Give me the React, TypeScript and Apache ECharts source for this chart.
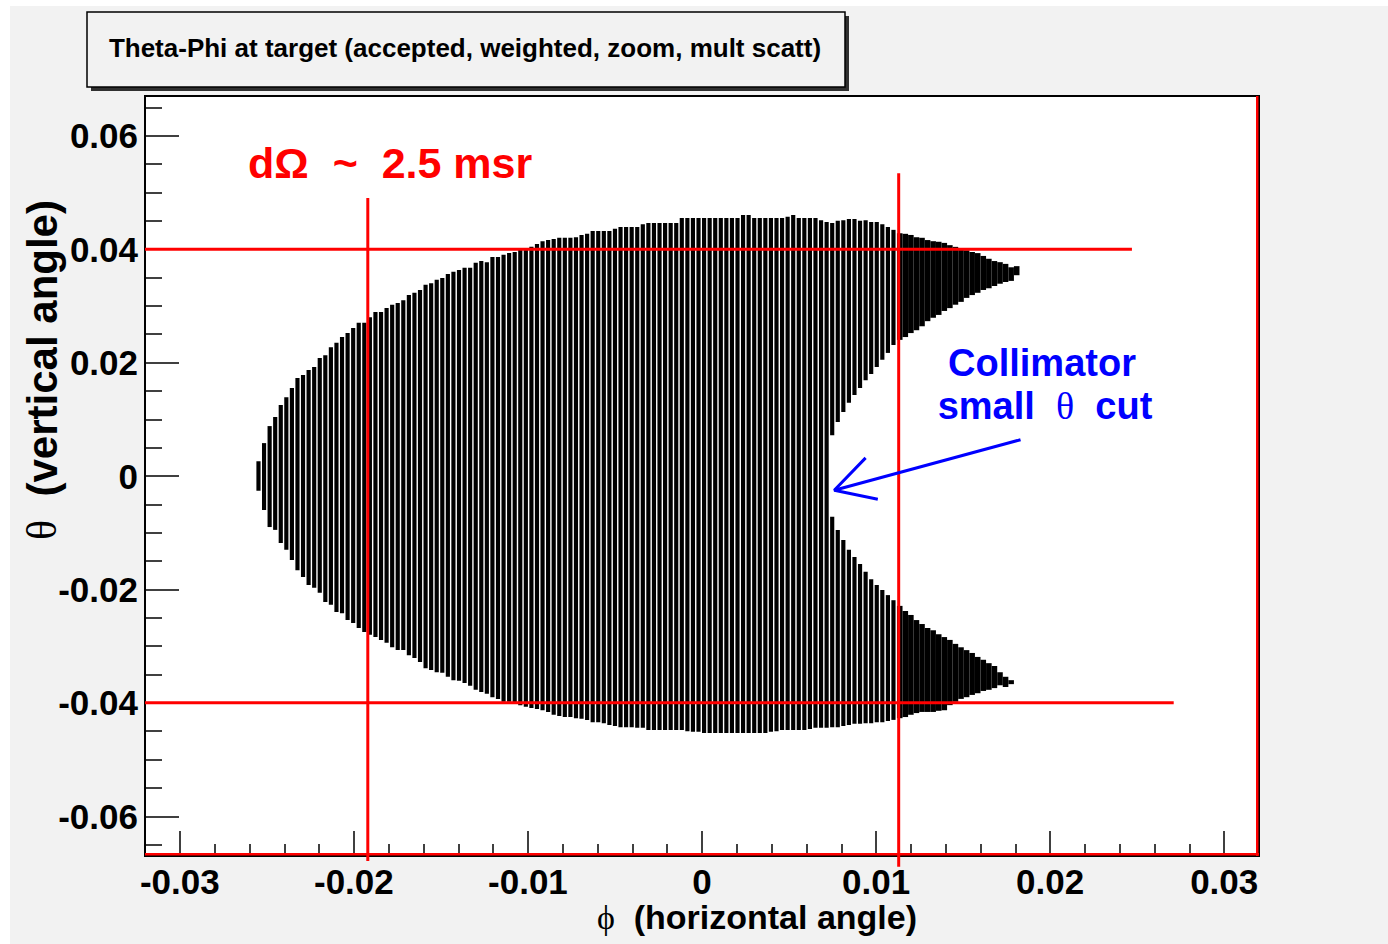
import React, { useEffect, useRef } from "react";
import * as echarts from "echarts";

// ---------- axis definition ----------
const PHI_MIN = -0.032;
const PHI_MAX = 0.032;
const THETA_MIN = -0.067;
const THETA_MAX = 0.067;

const xMajorTicks = [-0.03, -0.02, -0.01, 0, 0.01, 0.02, 0.03];
const xTickLabels = ["-0.03", "-0.02", "-0.01", "0", "0.01", "0.02", "0.03"];
const xMinorTicks = [
  -0.028, -0.026, -0.024, -0.022, -0.018, -0.016, -0.014, -0.012, -0.008, -0.006, -0.004, -0.002,
  0.002, 0.004, 0.006, 0.008, 0.012, 0.014, 0.016, 0.018, 0.022, 0.024, 0.026, 0.028,
];
const yMajorTicks = [-0.06, -0.04, -0.02, 0, 0.02, 0.04, 0.06];
const yTickLabels = ["-0.06", "-0.04", "-0.02", "0", "0.02", "0.04", "0.06"];
const yMinorTicks = [
  -0.065, -0.055, -0.05, -0.045, -0.035, -0.03, -0.025, -0.015, -0.01, -0.005,
  0.005, 0.01, 0.015, 0.025, 0.03, 0.035, 0.045, 0.05, 0.055, 0.065,
];

// ---------- histogram (phi bins of width 0.00032, first filled bin centred at -0.02544) ----------
const BIN_WIDTH = 0.00032;
const FIRST_BIN_CENTER = -0.02544;

// upper edge of the filled region in each phi bin (theta, rad)
const thetaTop = [
  0.0026, 0.0058, 0.0088, 0.0104, 0.0125, 0.0139, 0.0155, 0.0173, 0.0178, 0.0187,
  0.0192, 0.0208, 0.0213, 0.0227, 0.0235, 0.0245, 0.0252, 0.0261, 0.027, 0.027,
  0.028, 0.0289, 0.0289, 0.0296, 0.0302, 0.0305, 0.031, 0.0319, 0.0323, 0.0328,
  0.0337, 0.034, 0.0346, 0.0349, 0.0356, 0.036, 0.0363, 0.0367, 0.0367, 0.0376,
  0.0379, 0.0377, 0.0386, 0.0386, 0.039, 0.0393, 0.0395, 0.04, 0.0402, 0.0404,
  0.0409, 0.0414, 0.0416, 0.0418, 0.042, 0.042, 0.042, 0.0421, 0.0425, 0.0427,
  0.0432, 0.0432, 0.0432, 0.0432, 0.0436, 0.0439, 0.0439, 0.0439, 0.0439, 0.0444,
  0.0446, 0.0446, 0.0446, 0.0446, 0.0446, 0.0446, 0.0455, 0.0455, 0.0455, 0.0455,
  0.0455, 0.0455, 0.0455, 0.0455, 0.0455, 0.0455, 0.0455, 0.046, 0.046, 0.0455,
  0.0455, 0.0455, 0.0455, 0.0455, 0.0455, 0.0457, 0.046, 0.0455, 0.0455, 0.0455,
  0.0455, 0.0451, 0.0448, 0.0446, 0.045, 0.0451, 0.0453, 0.0453, 0.045, 0.0451,
  0.0448, 0.0448, 0.0444, 0.0439, 0.0434, 0.0428, 0.0427, 0.0425, 0.0421, 0.042,
  0.0416, 0.0414, 0.0413, 0.0411, 0.0407, 0.0404, 0.0402, 0.0398, 0.0395, 0.0393,
  0.0388, 0.0383, 0.0379, 0.0377, 0.0374, 0.0368, 0.037,
];

// lower edge of the filled region in each phi bin
const thetaBottom = [
  -0.0026, -0.006, -0.009, -0.0095, -0.0118, -0.013, -0.0148, -0.0166, -0.0178, -0.0192,
  -0.0197, -0.0206, -0.0222, -0.0227, -0.024, -0.0242, -0.0254, -0.0259, -0.0268, -0.0275,
  -0.028, -0.0284, -0.0289, -0.0294, -0.0302, -0.0307, -0.0307, -0.0316, -0.0321, -0.0328,
  -0.0339, -0.0342, -0.0346, -0.0347, -0.0354, -0.036, -0.0361, -0.0365, -0.037, -0.0377,
  -0.0381, -0.0384, -0.039, -0.0393, -0.0398, -0.0398, -0.04, -0.0404, -0.0407, -0.0409,
  -0.0411, -0.0413, -0.0416, -0.0421, -0.0423, -0.0425, -0.0425, -0.0427, -0.0428, -0.043,
  -0.0434, -0.0434, -0.0436, -0.0439, -0.0441, -0.0443, -0.0443, -0.0443, -0.0444, -0.0444,
  -0.0448, -0.0448, -0.0448, -0.0448, -0.0448, -0.0448, -0.0448, -0.045, -0.0451, -0.0451,
  -0.0453, -0.0453, -0.0453, -0.0453, -0.0453, -0.0453, -0.0453, -0.0453, -0.0453, -0.0453,
  -0.0453, -0.0453, -0.0451, -0.045, -0.0448, -0.0448, -0.0448, -0.0448, -0.0448, -0.0446,
  -0.0444, -0.0444, -0.0444, -0.0443, -0.0443, -0.0441, -0.0439, -0.0437, -0.0437, -0.0436,
  -0.0436, -0.0434, -0.0434, -0.0432, -0.043, -0.0427, -0.0425, -0.0421, -0.0418, -0.0416,
  -0.0416, -0.0416, -0.0414, -0.0413, -0.0404, -0.0398, -0.0393, -0.039, -0.0386, -0.0383,
  -0.0379, -0.0377, -0.0374, -0.0369, -0.0372, -0.0367, 0.0354,
];

// collimator small-theta cut: empty band between these edges, from bin index NOTCH_START
const NOTCH_START = 103;
const notchUpper = [
  0.0072, 0.0095, 0.0113, 0.0129, 0.0143, 0.0155, 0.0169, 0.018, 0.0192, 0.0205,
  0.0217, 0.0231, 0.024, 0.0245, 0.0252, 0.0257, 0.0264, 0.0273, 0.0279, 0.0284,
  0.0291, 0.0296, 0.0302, 0.0307, 0.0314, 0.0319, 0.0323, 0.0328, 0.0331, 0.0335,
  0.0339, 0.0342, 0.0344,
];
const notchLower = [
  -0.0072, -0.0095, -0.0113, -0.013, -0.0143, -0.0155, -0.0169, -0.0182, -0.0192, -0.0201,
  -0.021, -0.0219, -0.0229, -0.0238, -0.0245, -0.0254, -0.0261, -0.0268, -0.0272, -0.0279,
  -0.0284, -0.0289, -0.0296, -0.0302, -0.0307, -0.0312, -0.0319, -0.0324, -0.033, -0.0335,
  -0.0346, -0.0354, -0.036,
];

// ---------- annotation lines (data coordinates) ----------
const cutLineThetaHigh = [[-0.032, 0.04], [0.0247, 0.04]];
const cutLineThetaLow = [[-0.032, -0.04], [0.0271, -0.04]];
const cutLinePhiLow = [[-0.0192, 0.049], [-0.0192, -0.0679]];
const cutLinePhiHigh = [[0.0113, 0.0534], [0.0113, -0.0689]];
const arrowShaft = [[0.0183, 0.0064], [0.0076, -0.0025]];
const arrowHead = [[0.0094, 0.0032], [0.0076, -0.0025], [0.0101, -0.0041]];

// ---------- layout ----------
const GRID_LEFT = 145;
const GRID_TOP = 96;
const GRID_W = 1114;
const GRID_H = 760;
const FONT = "'Liberation Sans', Arial, Helvetica, sans-serif";
const SERIF = "'Liberation Serif', 'DejaVu Serif', serif";

function labelFor(values: number[], labels: string[]) {
  return (v: number) => {
    for (let i = 0; i < values.length; i++) if (Math.abs(values[i] - v) < 1e-9) return labels[i];
    return "";
  };
}

function buildOption() {
  const histData = thetaTop.map((top, i) => {
    const j = i - NOTCH_START;
    const has = j >= 0 && j < notchUpper.length;
    return [FIRST_BIN_CENTER + i * BIN_WIDTH, top, thetaBottom[i], has ? notchUpper[j] : 0, has ? notchLower[j] : 0, has ? 1 : 0];
  });

  const lineSeries = (name: string, data: number[][], color: string, width: number) => ({
    type: "line",
    name,
    data,
    symbol: "none",
    clip: false,
    silent: true,
    z: 5,
    lineStyle: { color, width },
  });

  const axisCommon = {
    type: "value",
    splitLine: { show: false },
    axisLine: { show: false, onZero: false },
  };

  return {
    animation: false,
    backgroundColor: "#f2f2f2",
    grid: {
      left: GRID_LEFT,
      top: GRID_TOP,
      width: GRID_W,
      height: GRID_H,
      show: true,
      backgroundColor: "#ffffff",
      borderColor: "#000000",
      borderWidth: 2,
    },
    xAxis: [
      {
        ...axisCommon,
        min: PHI_MIN,
        max: PHI_MAX,
        position: "bottom",
        axisTick: { show: true, inside: true, length: 25, customValues: xMajorTicks, lineStyle: { color: "#000", width: 1.5 } },
        axisLabel: {
          customValues: xMajorTicks,
          formatter: labelFor(xMajorTicks, xTickLabels),
          fontFamily: FONT,
          fontWeight: "bold",
          fontSize: 35,
          lineHeight: 35,
          color: "#000",
          margin: 8,
        },
      },
      {
        ...axisCommon,
        min: PHI_MIN,
        max: PHI_MAX,
        position: "bottom",
        axisTick: { show: true, inside: true, length: 12, customValues: xMinorTicks, lineStyle: { color: "#000", width: 1.5 } },
        axisLabel: { show: false },
      },
    ],
    yAxis: [
      {
        ...axisCommon,
        min: THETA_MIN,
        max: THETA_MAX,
        position: "left",
        axisTick: { show: true, inside: true, length: 34, customValues: yMajorTicks, lineStyle: { color: "#000", width: 1.5 } },
        axisLabel: {
          customValues: yMajorTicks,
          formatter: labelFor(yMajorTicks, yTickLabels),
          fontFamily: FONT,
          fontWeight: "bold",
          fontSize: 35,
          color: "#000",
          margin: 7,
        },
      },
      {
        ...axisCommon,
        min: THETA_MIN,
        max: THETA_MAX,
        position: "left",
        axisTick: { show: true, inside: true, length: 17, customValues: yMinorTicks, lineStyle: { color: "#000", width: 1.5 } },
        axisLabel: { show: false },
      },
    ],
    series: [
      {
        type: "custom",
        name: "Theta-Phi",
        coordinateSystem: "cartesian2d",
        xAxisIndex: 0,
        yAxisIndex: 0,
        silent: true,
        z: 2,
        dimensions: ["phi", "top", "bottom", "notchUpper", "notchLower", "hasNotch"],
        encode: { x: 0, y: [1, 2] },
        data: histData,
        renderItem: (params: any, api: any) => {
          const phi = api.value(0);
          const top = api.value(1);
          const bot = api.value(2);
          const a = api.coord([phi - BIN_WIDTH / 2, top]);
          const b = api.coord([phi + BIN_WIDTH / 2, bot]);
          const gap = phi < 0.0112 ? 1.4 : 0;
          const x = a[0];
          const w = b[0] - a[0] - gap;
          const style = { fill: "#000000" };
          if (api.value(5) === 1) {
            const u = api.coord([phi, api.value(3)]);
            const l = api.coord([phi, api.value(4)]);
            return {
              type: "group",
              children: [
                { type: "rect", shape: { x, y: a[1], width: w, height: u[1] - a[1] }, style },
                { type: "rect", shape: { x, y: l[1], width: w, height: b[1] - l[1] }, style },
              ],
            };
          }
          return { type: "rect", shape: { x, y: a[1], width: w, height: b[1] - a[1] }, style };
        },
      },
      lineSeries("theta cut high", cutLineThetaHigh, "#ff0000", 3),
      lineSeries("theta cut low", cutLineThetaLow, "#ff0000", 3),
      lineSeries("phi cut low", cutLinePhiLow, "#ff0000", 3),
      lineSeries("phi cut high", cutLinePhiHigh, "#ff0000", 3),
      lineSeries("arrow shaft", arrowShaft, "#0000ff", 3),
      lineSeries("arrow head", arrowHead, "#0000ff", 3),
    ],
    graphic: [
      // white page margins
      { type: "rect", z: 100, silent: true, shape: { x: 0, y: 0, width: 1388, height: 6 }, style: { fill: "#ffffff" } },
      { type: "rect", z: 100, silent: true, shape: { x: 0, y: 0, width: 10, height: 944 }, style: { fill: "#ffffff" } },
      // red frame edges (right & bottom)
      { type: "rect", z: 100, silent: true, shape: { x: GRID_LEFT + GRID_W - 3, y: GRID_TOP, width: 2.5, height: GRID_H }, style: { fill: "#ff0000" } },
      { type: "rect", z: 100, silent: true, shape: { x: GRID_LEFT, y: GRID_TOP + GRID_H - 3, width: GRID_W, height: 2.5 }, style: { fill: "#ff0000" } },
      // title box
      { type: "rect", z: 100, silent: true, shape: { x: 91, y: 16, width: 758, height: 75 }, style: { fill: "#303030" } },
      { type: "rect", z: 101, silent: true, shape: { x: 87, y: 12, width: 758, height: 75 }, style: { fill: "#f2f2f2", stroke: "#000", lineWidth: 1.5 } },
      {
        type: "text",
        z: 102,
        silent: true,
        style: {
          text: "Theta-Phi at target (accepted, weighted, zoom, mult scatt)",
          x: 465,
          y: 48,
          align: "center",
          verticalAlign: "middle",
          font: `bold 26px ${FONT}`,
          fill: "#000",
        },
      },
      // annotations
      {
        type: "text",
        z: 102,
        silent: true,
        style: {
          text: "{b|d}{o|Ω}{b|  ~  2.5 msr}",
          x: 248,
          y: 163,
          align: "left",
          verticalAlign: "middle",
          rich: {
            b: { fontFamily: FONT, fontWeight: "bold", fontSize: 43, fill: "#ff0000" },
            o: { fontFamily: FONT, fontWeight: "bold", fontSize: 43, fill: "#ff0000" },
          },
        },
      },
      {
        type: "text",
        z: 102,
        silent: true,
        style: {
          text: "Collimator",
          x: 1042,
          y: 363,
          align: "center",
          verticalAlign: "middle",
          font: `bold 38px ${FONT}`,
          fill: "#0000ff",
        },
      },
      {
        type: "text",
        z: 102,
        silent: true,
        style: {
          text: "{b|small  }{g|θ}{b|  cut}",
          x: 1045,
          y: 406,
          align: "center",
          verticalAlign: "middle",
          rich: {
            b: { fontFamily: FONT, fontWeight: "bold", fontSize: 38, fill: "#0000ff" },
            g: { fontFamily: SERIF, fontSize: 38, fill: "#0000ff" },
          },
        },
      },
      // axis titles
      {
        type: "text",
        z: 102,
        silent: true,
        style: {
          text: "{g|ϕ}{b|  (horizontal angle)}",
          x: 757,
          y: 917,
          align: "center",
          verticalAlign: "middle",
          rich: {
            b: { fontFamily: FONT, fontWeight: "bold", fontSize: 34, lineHeight: 34, fill: "#000" },
            g: { fontFamily: SERIF, fontSize: 34, lineHeight: 34, fill: "#000" },
          },
        },
      },
      {
        type: "text",
        z: 102,
        silent: true,
        x: 42,
        y: 370,
        rotation: Math.PI / 2,
        style: {
          text: "{g|θ}{b|  (vertical angle)}",
          x: 0,
          y: 0,
          align: "center",
          verticalAlign: "middle",
          rich: {
            b: { fontFamily: FONT, fontWeight: "bold", fontSize: 42, fill: "#000" },
            g: { fontFamily: SERIF, fontSize: 42, fill: "#000" },
          },
        },
      },
    ],
  };
}

export default function App() {
  const ref = useRef<HTMLDivElement>(null);
  useEffect(() => {
    if (!ref.current) return;
    const chart = echarts.init(ref.current, undefined, { renderer: "svg" });
    chart.setOption(buildOption() as any);
    return () => chart.dispose();
  }, []);
  return <div ref={ref} style={{ position: "absolute", left: 0, top: 0, width: 1388, height: 944 }} />;
}
